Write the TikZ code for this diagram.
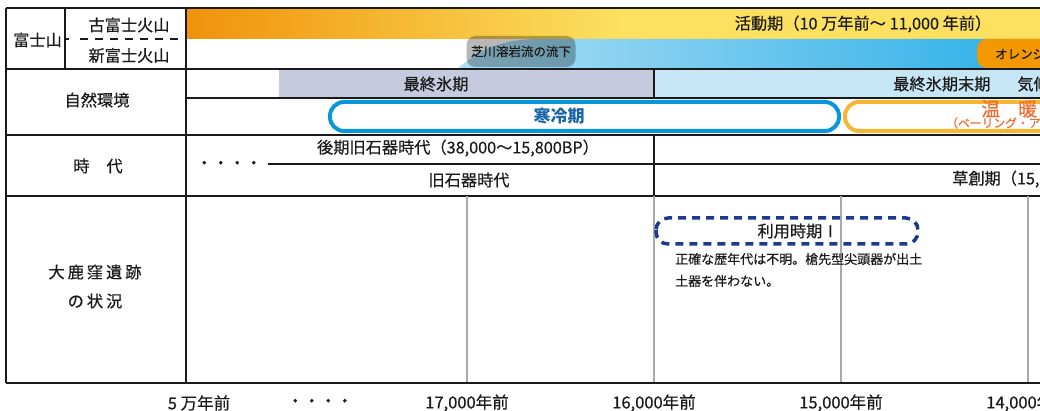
\documentclass[tikz,border=0pt]{standalone}
\usepackage{fontspec}
\setmainfont{Noto Sans CJK JP}[UprightFeatures={FakeBold=0.5}]
\definecolor{orangeA}{HTML}{F0920A}
\definecolor{yellowA}{HTML}{FBE15F}
\definecolor{bluelight}{HTML}{AEDFF4}
\definecolor{bluedeep}{HTML}{2BAFE8}
\definecolor{lavender}{HTML}{C6CADF}
\definecolor{skyrow}{HTML}{C6E6F6}
\definecolor{coldblue}{HTML}{0A96DA}
\definecolor{coldtext}{HTML}{1B66A8}
\definecolor{warmline}{HTML}{F6B533}
\definecolor{warmtext}{HTML}{EE6C2F}
\definecolor{orangebox}{HTML}{F39800}
\definecolor{navy}{HTML}{1A3A8C}
\definecolor{gridgray}{HTML}{AAAAAA}
\definecolor{ink}{HTML}{1A1A1A}
\tikzset{
  lbl/.style={font=\fontsize{16.2}{18}\selectfont, inner sep=0pt, text=ink},
  small/.style={font=\fontsize{12.5}{14}\selectfont, inner sep=0pt, text=ink},
  note/.style={font=\fontsize{13}{15}\selectfont, inner sep=0pt, text=ink},
  axis/.style={font=\fontsize{16.5}{18}\selectfont, inner sep=0pt, text=ink},
  rule/.style={draw=ink, line width=1.8pt},
  thin/.style={draw=ink, line width=1.5pt},
  grid/.style={draw=gridgray, line width=1.5pt},
}
\begin{document}
\begin{tikzpicture}[x=1pt,y=-1pt]
\useasboundingbox (0,0) rectangle (1040,411);
\clip (0,0) rectangle (1040,411);
% top gradient bar
\shade[left color=orangeA, right color=yellowA] (186,8) rectangle (620,39);
\fill[yellowA] (619.5,8) rectangle (1040,39);
% blue lava band
\shade[left color=bluelight, right color=bluedeep] (457,69) .. controls (480,50) and (500,39) .. (540,39) -- (1040,39) -- (1040,69) -- cycle;
% label for lava flow
\node[small, fill=black, fill opacity=0.28, text opacity=1, rounded corners=9pt, minimum width=109pt, minimum height=31pt] (lava) at (521,51.5) {芝川溶岩流の流下};
% orange box right
\fill[orangebox, rounded corners=10pt] (977,39) rectangle (1080,68);
\node[small, anchor=west] (orange) at (995,54) {オレンジ};
% row 2 fills
\fill[lavender] (279,69) rectangle (654,98);
\fill[skyrow] (654,69) rectangle (1040,98);
% cold / warm frames
\draw[coldblue, line width=4pt, rounded corners=14pt] (330,102) rectangle (839,131);
\draw[warmline, line width=4pt, rounded corners=14pt] (845,102) rectangle (1100,131);
% table lines
\draw[rule] (6,8) -- (1040,8);
\draw[rule] (6,69) -- (1040,69);
\draw[thin] (186,98) -- (1040,98);
\draw[rule] (6,135) -- (1040,135);
\draw[thin] (268,164) -- (1040,164);
\draw[rule] (6,196) -- (1040,196);
\draw[grid] (467,196) -- (467,383);
\draw[grid] (654,196) -- (654,383);
\draw[grid] (841,196) -- (841,383);
\draw[grid] (1028,196) -- (1028,383);
\draw[rule] (6,383) -- (1040,383);
\draw[rule] (6,8) -- (6,383);
\draw[rule] (65,8) -- (65,69);
\draw[rule] (186,8) -- (186,383);
\draw[rule] (654,69) -- (654,98);
\draw[rule] (654,135) -- (654,196);
\draw[thin, line width=1.5pt] (65,39) -- (69,39);
\draw[thin, line width=1.5pt, dash pattern=on 8pt off 7pt] (80,39) -- (186,39);
% labels column
\node[lbl] (fuji) at (37.5,40) {富士山};
\node[lbl] (kofuji) at (129,25) {古富士火山};
\node[lbl] (shinfuji) at (129,55.5) {新富士火山};
\node[lbl] (shizen) at (97,100) {自然環境};
\node[lbl] (jidai) at (98,166) {時\hspace{17pt}代};
\node[lbl] (site1) at (95,272) {大\hspace{3pt}鹿\hspace{3pt}窪\hspace{3pt}遺\hspace{3pt}跡};
\node[lbl] (site2) at (95,301) {の\hspace{3pt}状\hspace{3pt}況};
% row texts
\node[lbl] (katsudo) at (863,24) {活動期（10 万年前～ 11,000 年前）};
\node[lbl] (saishu) at (436,84) {最終氷期};
\node[lbl, anchor=west] (matsu) at (893,84) {最終氷期末期\hspace{27pt}気候};
\node[font=\fontsize{17}{19}\selectfont\bfseries, text=coldtext, inner sep=0pt] (kanrei) at (559,116) {寒冷期};
\node[font=\fontsize{19}{21}\selectfont, text=warmtext, inner sep=0pt, anchor=west] (ondan) at (981,109) {温\hspace{18pt}暖};
\node[font=\fontsize{11.8}{13}\selectfont, text=warmtext, inner sep=0pt, anchor=west] (bering) at (946,123) {（ベーリング・アレレード期）};
\node[axis] (dots1) at (229,165) {・・・・};
\node[lbl] (koki) at (458,148) {後期旧石器時代（38,000～15,800BP）};
\node[lbl] (kyusekki) at (469,180) {旧石器時代};
\node[lbl, anchor=west] (sosoki) at (952,179) {草創期（15,000～};
% site row
\draw[navy, line width=3.5pt, dash pattern=on 8pt off 6pt, rounded corners=12pt] (656,218) rectangle (918,244);
\node[lbl] (riyo) at (798,231) {利用時期Ⅰ};
\node[note, anchor=west] (note1) at (675,259) {正確な歴年代は不明。槍先型尖頭器が出土};
\node[note, anchor=west] (note2) at (675,281) {土器を伴わない。};
% axis labels
\node[axis] (t50k) at (199,403) {5 万年前};
\node[axis] (dots2) at (320,403) {・・・・};
\node[axis] (t17k) at (467,403) {17,000年前};
\node[axis] (t16k) at (654,403) {16,000年前};
\node[axis] (t15k) at (841,403) {15,000年前};
\node[axis] (t14k) at (1028,403) {14,000年前};
\end{tikzpicture}
\end{document}
